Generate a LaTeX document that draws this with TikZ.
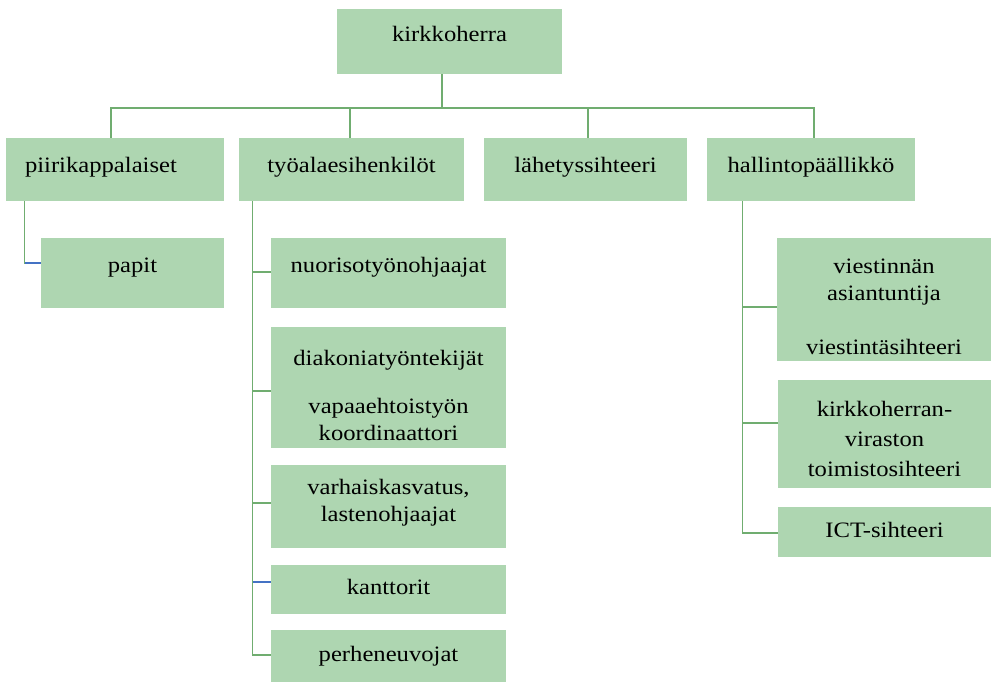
\documentclass[tikz,border=0pt]{standalone}
\usepackage{fontspec}
\setmainfont[FakeStretch=1.12]{Liberation Serif}
\definecolor{boxfill}{RGB}{174,214,177}
\definecolor{linkgreen}{RGB}{112,173,112}
\definecolor{linkblue}{RGB}{68,114,196}
\begin{document}
\begin{tikzpicture}
      [
      x=1pt,y=-1pt,
      box/.style={fill=boxfill,draw=none,inner sep=0pt,align=center,
        font=\fontsize{22}{27}\selectfont,text=black},
      oneline/.style={text height=15pt,text depth=9pt},
      raised/.style={text height=13pt,text depth=15pt},
      link/.style={draw=linkgreen,line width=1.1pt},
      bluelink/.style={draw=linkblue,line width=1.1pt}
      ]
      \useasboundingbox (0,0) rectangle (991,682);

      \node (kh) at (449.5,41.5) [box,text height=10pt,text depth=10pt,minimum width=225pt,minimum height=65pt] {kirkkoherra};

      \node (pk) at (115,169.5) [box,oneline,minimum width=218pt,minimum height=63pt,text width=180pt,inner xsep=19pt,align=left] {piirikappalaiset};
      \node (ty) at (351.5,169.5) [box,oneline,minimum width=225pt,minimum height=63pt] {työalaesihenkilöt};
      \node (lh) at (585.5,169.5) [box,oneline,minimum width=203pt,minimum height=63pt] {lähetyssihteeri};
      \node (hp) at (811,169.5) [box,oneline,minimum width=208pt,minimum height=63pt] {hallintopäällikkö};

      \node (papit) at (132.5,273) [box,raised,minimum width=183pt,minimum height=70pt] {papit};

      \node (nu) at (388.5,273) [box,raised,minimum width=235pt,minimum height=70pt] {nuorisotyönohjaajat};
      \node (di) at (388.5,387.5) [box,minimum width=235pt,minimum height=121pt] {\rule{0pt}{31pt}diakoniatyöntekijät\\[21pt]vapaaehtoistyön\\koordinaattori};
      \node (va) at (388.5,506.5) [box,minimum width=235pt,minimum height=83pt] {varhaiskasvatus,\\lastenohjaajat\rule[-13pt]{0pt}{0pt}};
      \node (ka) at (388.5,589.5) [box,text height=15pt,text depth=5pt,minimum width=235pt,minimum height=49pt] {kanttorit};
      \node (pe) at (388.5,656) [box,text height=15pt,text depth=5pt,minimum width=235pt,minimum height=52pt] {perheneuvojat};

      \node (vi) at (884,299.5) [box,minimum width=214pt,minimum height=123pt] {\rule{0pt}{29pt}viestinnän\\asiantuntija\\[27pt]viestintäsihteeri};
      \node (kv) at (884.5,434) [box,font=\fontsize{22}{30}\selectfont,minimum width=213pt,minimum height=108pt] {\rule{0pt}{25pt}kirkkoherran-\\viraston\\toimistosihteeri};
      \node (ic) at (884.5,532) [box,text height=15pt,text depth=5pt,minimum width=213pt,minimum height=50pt] {ICT-sihteeri};

      % top level
      \coordinate (bus) at (442,108);
      \draw [link] ([xshift=-7.5pt]kh.south) -- (bus);
      \draw [link] (bus) -| ([xshift=-4pt]pk.north);
      \draw [link] (bus) -| ([xshift=-1.5pt]ty.north);
      \draw [link] (bus) -| ([xshift=2.5pt]lh.north);
      \draw [link] (bus) -| ([xshift=3pt]hp.north);

      % piirikappalaiset
      \draw [link] ([xshift=19pt]pk.south west) |- ([yshift=10pt]papit.west);
      \draw [bluelink] ([xshift=-16pt,yshift=10pt]papit.west) -- ([yshift=10pt]papit.west);

      % tyoalaesihenkilot
      \draw [link] ([xshift=14pt]ty.south west) |- ([yshift=1pt]nu.west);
      \draw [link] ([xshift=14pt]ty.south west) |- ([yshift=-3.5pt]di.west);
      \draw [link] ([xshift=14pt]ty.south west) |- ([yshift=3.5pt]va.west);
      \draw [link] ([xshift=14pt]ty.south west) |- ([yshift=1pt]pe.west);
      \draw [bluelink] ([xshift=-18pt,yshift=7.5pt]ka.west) -- ([yshift=7.5pt]ka.west);

      % hallintopaallikko
      \draw [link] ([xshift=36pt]hp.south west) |- ([yshift=-7.5pt]vi.west);
      \draw [link] ([xshift=36pt]hp.south west) |- ([yshift=11pt]kv.west);
      \draw [link] ([xshift=36pt]hp.south west) |- ([yshift=-1pt]ic.west);
\end{tikzpicture}
\end{document}
